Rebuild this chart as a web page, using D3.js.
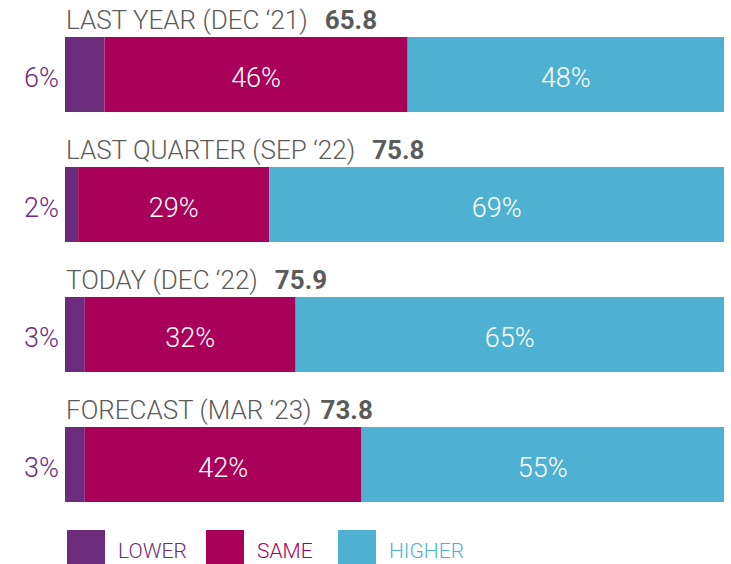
<!DOCTYPE html>
<html>
<head>
<meta charset="utf-8">
<script src="https://cdn.jsdelivr.net/npm/d3@7"></script>
<style>
  body { margin: 0; background: #fff; }
  svg text { font-family: Roboto, "DejaVu Sans", sans-serif; }
</style>
</head>
<body>
<div id="vis"></div>
<script>
// periods, headline index and the three shares (%)
var periods = ["LAST YEAR (DEC \u201821)", "LAST QUARTER (SEP \u201822)", "TODAY (DEC \u201822)", "FORECAST (MAR \u201823)"];
var indexValues = ["65.8", "75.8", "75.9", "73.8"];
var lower = [6, 2, 3, 3];
var same = [46, 29, 32, 42];
var higher = [48, 69, 65, 55];

var keys = ["LOWER", "SAME", "HIGHER"];
var colors = ["#6b2c7b", "#a9005a", "#4fb1d1"];

var width = 731,
    height = 564;

var svg = d3.select("#vis").append("svg")
    .attr("width", width)
    .attr("height", height);

// rows built from the arrays above
var rows = periods.map(function(p, i) {
  return { period: p, index: indexValues[i], LOWER: lower[i], SAME: same[i], HIGHER: higher[i] };
});

var x = d3.scaleLinear()
    .domain([0, 100])
    .range([65, 724]);

// 75px bars, 130px step
var y = d3.scaleBand()
    .domain(periods)
    .range([37, 502])
    .paddingInner(55 / 130)
    .paddingOuter(0);

var color = d3.scaleOrdinal()
    .domain(keys)
    .range(colors);

var stacked = d3.stack().keys(keys)(rows);

// bar segments
var layer = svg.selectAll("g.layer")
    .data(stacked)
  .enter().append("g")
    .attr("class", "layer")
    .attr("fill", function(d) { return color(d.key); });

layer.selectAll("rect")
    .data(function(d) { return d; })
  .enter().append("rect")
    .attr("x", function(d) { return x(d[0]); })
    .attr("y", function(d) { return y(d.data.period); })
    .attr("width", function(d) { return x(d[1]) - x(d[0]); })
    .attr("height", y.bandwidth());

// white labels in SAME and HIGHER segments
stacked.slice(1).forEach(function(s) {
  svg.append("g").selectAll("text")
      .data(s)
    .enter().append("text")
      .attr("x", function(d) { return (x(d[0]) + x(d[1])) / 2; })
      .attr("y", function(d) { return y(d.data.period) + y.bandwidth() / 2 + 12; })
      .attr("text-anchor", "middle")
      .attr("fill", "#fff")
      .attr("font-size", 27)
      .attr("font-weight", 300)
      .text(function(d) { return (d[1] - d[0]) + "%"; });
});

// LOWER share written left of the bar
svg.append("g").selectAll("text")
    .data(stacked[0])
  .enter().append("text")
    .attr("x", x(0) - 6)
    .attr("y", function(d) { return y(d.data.period) + y.bandwidth() / 2 + 12; })
    .attr("text-anchor", "end")
    .attr("fill", colors[0])
    .attr("font-size", 27)
    .attr("font-weight", 300)
    .text(function(d) { return (d[1] - d[0]) + "%"; });

// row titles
var title = svg.append("g").selectAll("text")
    .data(rows)
  .enter().append("text")
    .attr("x", x(0) + 1)
    .attr("y", function(d) { return y(d.period) - 8; })
    .attr("fill", "#5b5b5b")
    .attr("font-size", 26)
    .attr("font-weight", 300);

title.append("tspan").text(function(d) { return d.period; });
title.append("tspan")
    .attr("dx", function(d, i) { return i < 3 ? 17 : 9; })
    .attr("font-weight", 700)
    .text(function(d) { return d.index; });

// legend
var legendX = d3.scaleOrdinal()
    .domain(keys)
    .range([67, 206, 338]);

var legend = svg.append("g").selectAll("g")
    .data(keys)
  .enter().append("g")
    .attr("transform", function(d) { return "translate(" + legendX(d) + ",530)"; });

legend.append("rect")
    .attr("width", 38)
    .attr("height", 34)
    .attr("fill", function(d) { return color(d); });

legend.append("text")
    .attr("x", 51)
    .attr("y", 28)
    .attr("fill", function(d) { return color(d); })
    .attr("font-size", 21)
    .attr("font-weight", 300)
    .text(function(d) { return d; });
</script>
</body>
</html>
